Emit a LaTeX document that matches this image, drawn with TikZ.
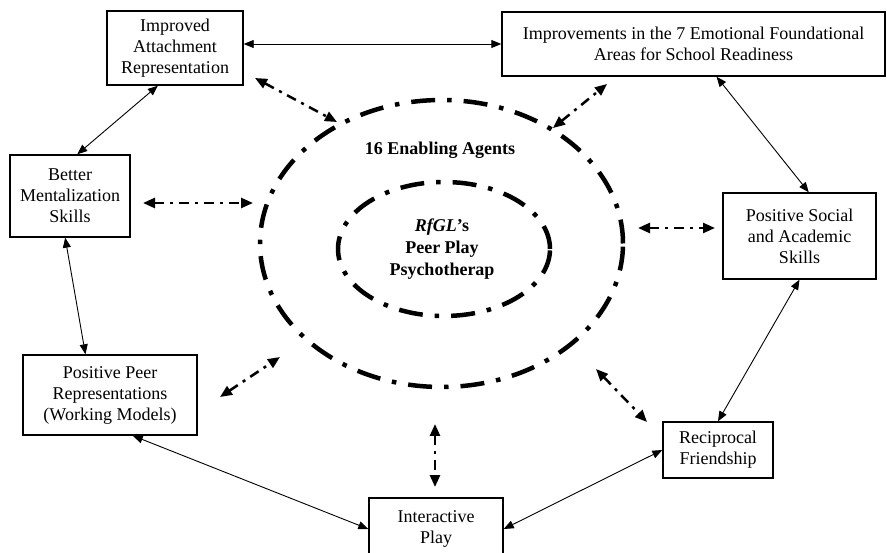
\documentclass[tikz,border=0pt]{standalone}
\usepackage{fontspec}
\setmainfont{Liberation Serif}
\usetikzlibrary{arrows.meta,calc,shapes.geometric}
\begin{document}
\begin{tikzpicture}[x=1pt,y=-1pt,
  box/.style={draw,line width=1.4pt,align=center,inner sep=0pt,
    font=\fontsize{18}{21}\selectfont},
  link/.style={line width=0.9pt,
    {Triangle[length=10pt,width=8pt]}-{Triangle[length=10pt,width=8pt]}},
  dd/.style={line width=2.5pt,dash pattern=on 10pt off 6pt on 3pt off 6pt,
    {Triangle[length=12pt,width=10pt]}-{Triangle[length=12pt,width=10pt]}},
  ring/.style={draw,ellipse,line width=4.5pt,
    dash pattern=on 24pt off 12pt on 4.5pt off 12pt,inner sep=0pt},
  ctext/.style={font=\bfseries\fontsize{18}{22}\selectfont,align=center}]
\clip (0,0) rectangle (887,553);
\fill[white] (0,0) rectangle (887,553);

% boxes
\node[box,minimum width=136,minimum height=74] (att) at (175,48)
  {Improved\\Attachment\\Representation};
\node[box,minimum width=383,minimum height=64] (imp) at (693.5,44)
  {Improvements in the 7 Emotional Foundational\\Areas for School Readiness};
\node[box,minimum width=120,minimum height=82] (men) at (70,196)
  {Better\\Mentalization\\Skills};
\node[box,minimum width=153,minimum height=86] (soc) at (799.5,236)
  {Positive Social\\and Academic\\Skills};
\node[box,minimum width=174,minimum height=80] (peer) at (110,395)
  {Positive Peer\\Representations\\(Working Models)};
\node[box,minimum width=134,minimum height=62] (int) at (436,529)
  {Interactive\\Play};
\node[box,minimum width=110,minimum height=56] (rec) at (718,450)
  {Reciprocal\\Friendship};

% ellipses
\node[ring,minimum width=363,minimum height=287] (outer) at (441.5,243.5) {};
\node[ring,minimum width=212,minimum height=134] (inner) at (444,249) {};
\node[ctext] (agents) at (440,150) {16 Enabling Agents};
\node[ctext] (rfgl) at (442,249) {\textit{RfGL}’s\\Peer Play\\Psychotherap};

% solid links
\draw[link] (att.east |- imp.west) -- (imp.west);
\draw[link] ($(att.south west)!0.375!(att.south east)$) -- ($(men.north west)!0.56!(men.north east)$);
\draw[link] ($(men.south west)!0.46!(men.south east)$) -- ($(peer.north west)!0.36!(peer.north east)$);
\draw[link] ($(peer.south west)!0.63!(peer.south east)$) -- (int.west);
\draw[link] (int.east) -- (rec.west);
\draw[link] (rec.north) -- (soc.south);
\draw[link] ($(soc.north west)!0.56!(soc.north east)$) -- ($(imp.south west)!0.56!(imp.south east)$);

% dash-dot links
\coordinate (a1) at (255,78);  \coordinate (a2) at (337,122);
\coordinate (m1) at (143,203); \coordinate (m2) at (253,203);
\coordinate (i1) at (553,128); \coordinate (i2) at (607,84);
\coordinate (s1) at (638,228); \coordinate (s2) at (715,228);
\coordinate (p1) at (220,397); \coordinate (p2) at (280,357);
\coordinate (n1) at (435,424); \coordinate (n2) at (435,487);
\coordinate (r1) at (596,369); \coordinate (r2) at (647,422);
\draw[dd] (a1) -- (a2);
\draw[dd] (m1) -- (m2);
\draw[dd] (i1) -- (i2);
\draw[dd] (s1) -- (s2);
\draw[dd] (p1) -- (p2);
\draw[dd] (n1) -- (n2);
\draw[dd] (r1) -- (r2);
\end{tikzpicture}
\end{document}
